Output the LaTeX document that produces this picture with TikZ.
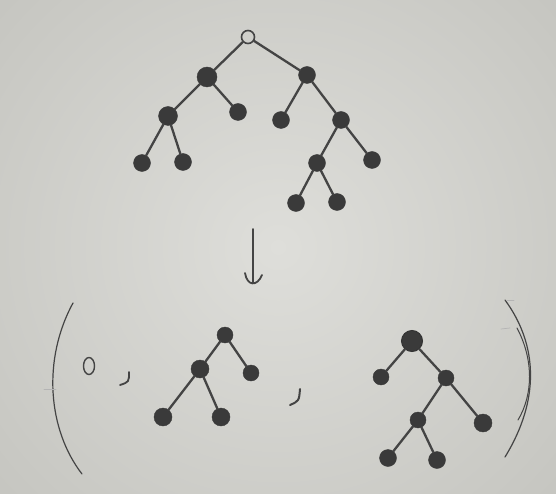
\documentclass[tikz,border=0pt]{standalone}
\usetikzlibrary{shapes.geometric}
\definecolor{paper}{RGB}{222,222,218}
\definecolor{paperdark}{RGB}{178,178,172}
\definecolor{ink}{RGB}{58,58,58}
\definecolor{pen}{RGB}{68,68,68}
\tikzset{
  dot/.style={circle, fill=ink, draw=ink, inner sep=0pt, minimum size=#1},
  dot/.default=17pt,
  hollow/.style={circle, draw=pen, line width=1.6pt, inner sep=0pt, minimum size=13pt},
  edge/.style={draw=pen, line width=2.3pt, line cap=round},
  stroke/.style={draw=pen, line width=1.6pt, line cap=round}
}
\begin{document}
\begin{tikzpicture}[x=1pt,y=-1pt]
\useasboundingbox (0,0) rectangle (556,494);
\begin{scope}
\clip (0,0) rectangle (556,494);
\shade[inner color=paper, outer color=paperdark] (-400,-420) rectangle (956,914);
\end{scope}
% top tree
\node[hollow] (r) at (248,37) {};
\node[dot=20pt] (a) at (207,77) {};
\node[dot=17pt] (b) at (307,75) {};
\node[dot=19pt] (c) at (168,116) {};
\node[dot=17pt] (d) at (238,112) {};
\node[dot=17pt] (e) at (142,163) {};
\node[dot=17pt] (f) at (183,162) {};
\node[dot=17pt] (g) at (281,120) {};
\node[dot=17pt] (h) at (341,120) {};
\node[dot=17pt] (i) at (317,163) {};
\node[dot=17pt] (j) at (372,160) {};
\node[dot=17pt] (k) at (296,203) {};
\node[dot=17pt] (l) at (337,202) {};
\foreach \u/\v in {r/a,r/b,a/c,a/d,c/e,c/f,b/g,b/h,h/i,h/j,i/k,i/l}
  \draw[edge] (\u) -- (\v);
% arrow
\coordinate (at) at (253,229);
\coordinate (ab) at (253,283);
\coordinate (hl) at (245,273);
\coordinate (hr) at (262,275);
\draw[stroke, line width=1.8pt] (at) -- (ab);
\draw[stroke, line width=1.8pt] (hl) .. controls (247,286) and (257,287) .. (hr);
% left parenthesis
\coordinate (lp1) at (73,303);
\coordinate (lp2) at (82,474);
\draw[stroke, line width=1.2pt] (lp1) .. controls (42,360) and (48,430) .. (lp2);
\coordinate (lt1) at (44,389);
\coordinate (lt2) at (56,389);
\draw[stroke, line width=0.7pt, pen!40] (lt1) -- (lt2);
% empty tree and commas
\node[ellipse, draw=pen, line width=1.4pt, minimum width=11pt, minimum height=17pt, inner sep=0pt] (z) at (89,366) {};
\coordinate (c1a) at (129,372);
\coordinate (c1b) at (120,385);
\draw[stroke, line width=1.8pt] (c1a) .. controls (129,382) .. (c1b);
\coordinate (c2a) at (300,389);
\coordinate (c2b) at (290,405);
\draw[stroke, line width=2pt] (c2a) .. controls (299,401) .. (c2b);
% middle tree
\node[dot=16pt] (m) at (225,335) {};
\node[dot=18pt] (n) at (200,369) {};
\node[dot=16pt] (p) at (251,373) {};
\node[dot=18pt] (q) at (163,417) {};
\node[dot=18pt] (s) at (221,417) {};
\foreach \u/\v in {m/n,m/p,n/q,n/s}
  \draw[edge] (\u) -- (\v);
% right tree
\node[dot=21pt, draw=black!80, line width=1pt] (t) at (412,341) {};
\node[dot=16pt] (u) at (381,377) {};
\node[dot=16pt] (v) at (446,378) {};
\node[dot=16pt] (w) at (418,420) {};
\node[dot=18pt] (x) at (483,423) {};
\node[dot=17pt] (y) at (388,458) {};
\node[dot=17pt] (yy) at (437,460) {};
\foreach \u/\v in {t/u,t/v,v/w,v/x,w/y,w/yy}
  \draw[edge] (\u) -- (\v);
% right parenthesis
\coordinate (rp1) at (505,300);
\coordinate (rp2) at (505,457);
\draw[stroke, line width=1.2pt] (rp1) .. controls (538,345) and (540,400) .. (rp2);
\coordinate (rq1) at (517,328);
\coordinate (rq2) at (518,420);
\draw[stroke, line width=1pt] (rq1) .. controls (534,360) and (533,395) .. (rq2);
\coordinate (rt1) at (507,300);
\coordinate (rt2) at (514,300);
\draw[stroke, line width=0.7pt, pen!40] (rt1) -- (rt2);
\coordinate (rt3) at (501,329);
\coordinate (rt4) at (510,328);
\draw[stroke, line width=0.7pt, pen!40] (rt3) -- (rt4);
\end{tikzpicture}
\end{document}
